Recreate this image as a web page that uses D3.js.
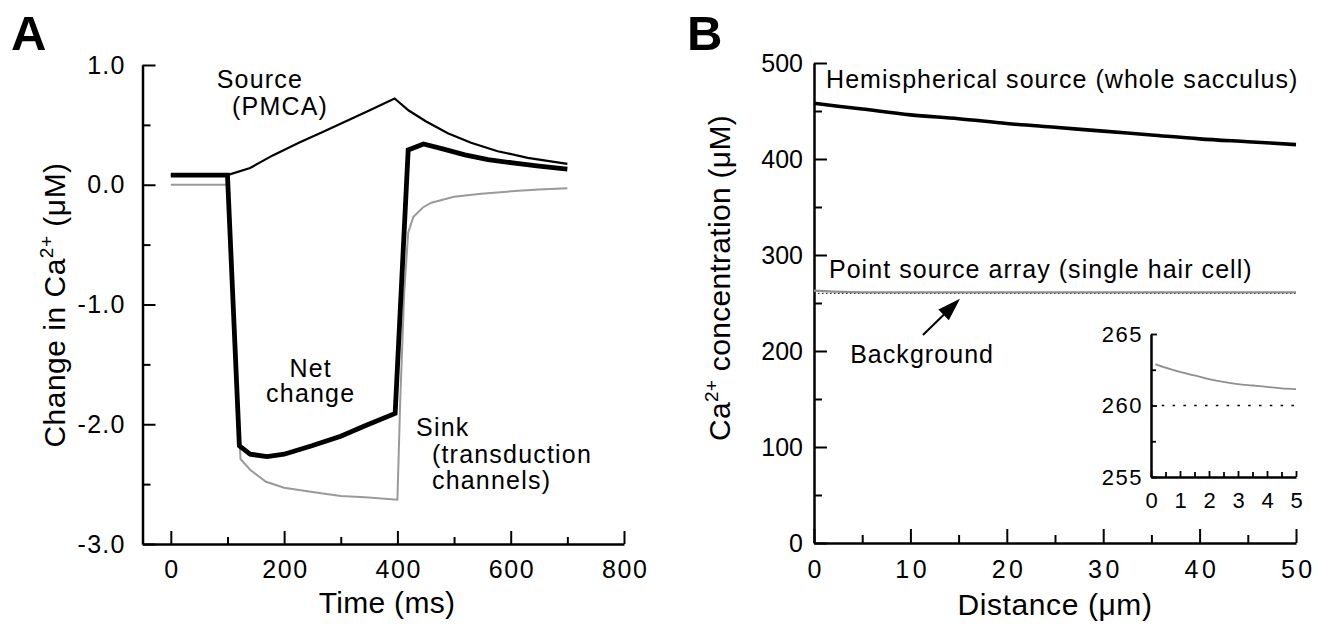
<!DOCTYPE html>
<html>
<head>
<meta charset="utf-8">
<script src="https://cdn.jsdelivr.net/npm/d3@7"></script>
<style>
  html, body { margin: 0; padding: 0; background: #fff; }
  svg { display: block; }
  text { font-family: "Liberation Sans", Arial, Helvetica, sans-serif; fill: #000; }
</style>
</head>
<body>
<svg id="chart" width="1329" height="625"></svg>
<script>
// ---------------- Panel A data ----------------
const timeSource = [0, 100, 140, 180, 226, 270, 314, 355, 395, 420, 450, 489, 530, 577, 630, 700];
const valSource  = [0.08, 0.08, 0.14, 0.245, 0.35, 0.445, 0.54, 0.63, 0.72, 0.62, 0.53, 0.43, 0.35, 0.28, 0.225, 0.175];

const timeNet = [0, 100, 121, 140, 170, 200, 249, 300, 344, 396, 419, 446, 480, 519, 560, 607, 650, 700];
const valNet  = [0.08, 0.08, -2.18, -2.25, -2.27, -2.25, -2.18, -2.10, -2.01, -1.91, 0.29, 0.34, 0.30, 0.25, 0.21, 0.18, 0.155, 0.13];

const timeSink = [0, 100, 123, 140, 168, 200, 256, 300, 343, 400, 405, 412, 419, 428, 445, 460, 500, 548, 600, 650, 700];
const valSink  = [0, 0, -2.29, -2.38, -2.48, -2.53, -2.57, -2.60, -2.61, -2.63, -1.8, -0.9, -0.40, -0.27, -0.19, -0.15, -0.10, -0.075, -0.055, -0.04, -0.03];

const xTicksA = [0, 200, 400, 600, 800];
const xMinorA = [100, 300, 500, 700];
const yTicksA = [-3, -2, -1, 0, 1];
const yMinorA = [-2.5, -1.5, -0.5, 0.5];

// ---------------- Panel B data ----------------
const distHemi = [0, 5, 10, 15, 20, 25, 30, 35, 40, 45, 50];
const valHemi  = [458, 452, 446, 442, 437, 433, 429, 425, 421, 418, 415];

const distPoint = [0, 1, 2, 3, 4, 5, 10, 20, 30, 40, 50];
const valPoint  = [262.9, 262.35, 261.85, 261.5, 261.3, 261.15, 261.0, 261.0, 261.0, 261.0, 261.0];

const backgroundLevel = 260;

const xTicksB = [0, 10, 20, 30, 40, 50];
const xMinorB = [5, 15, 25, 35, 45];
const yTicksB = [0, 100, 200, 300, 400, 500];
const yMinorB = [50, 150, 250, 350, 450];

// inset
const distInset = [0.15, 0.5, 1, 1.5, 2, 2.5, 3, 3.5, 4, 4.5, 5];
const valInset  = [262.9, 262.65, 262.35, 262.1, 261.85, 261.65, 261.5, 261.4, 261.3, 261.2, 261.15];
const xTicksInset = [0, 1, 2, 3, 4, 5];
const xMinorInset = [0.5, 1.5, 2.5, 3.5, 4.5];
const yTicksInset = [255, 260, 265];
const yMinorInset = [257.5, 262.5];

// ---------------- Drawing ----------------
const svg = d3.select("#chart");
const FONT = 25;

function styleAxis(g, opts) {
  g.select(".domain").attr("stroke-width", opts.domainW || 2.5).attr("stroke", "#000");
  g.selectAll(".tick line").attr("stroke-width", opts.tickW || 2).attr("stroke", "#000");
  g.selectAll(".tick text")
    .attr("font-size", opts.fs || FONT)
    .attr("letter-spacing", opts.ls != null ? opts.ls : 1.3)
    .attr("font-family", '"Liberation Sans", Arial, Helvetica, sans-serif')
    .attr("fill", "#000");
}

// ===== Panel A =====
const xA = d3.scaleLinear().domain([-50, 800]).range([142.5, 624]);
const yA = d3.scaleLinear().domain([-3, 1]).range([544, 65]);

const gA = svg.append("g");

// minor ticks
gA.append("g").attr("transform", `translate(0,${yA(-3)})`)
  .call(d3.axisBottom(xA).tickValues(xMinorA).tickSize(-7).tickFormat(""))
  .call(g => g.select(".domain").remove())
  .call(g => g.selectAll(".tick line").attr("stroke-width", 2));
gA.append("g").attr("transform", `translate(${xA(-50)},0)`)
  .call(d3.axisLeft(yA).tickValues(yMinorA).tickSize(-8).tickFormat(""))
  .call(g => g.select(".domain").remove())
  .call(g => g.selectAll(".tick line").attr("stroke-width", 2));

// major axes
const axAx = gA.append("g").attr("transform", `translate(0,${yA(-3)})`)
  .call(d3.axisBottom(xA).tickValues(xTicksA).tickSize(-13).tickSizeOuter(0).tickPadding(16).tickFormat(d => String(d)));
styleAxis(axAx, { ls: 1.6 });
axAx.selectAll(".tick text").attr("dx", 0.8);

const axAy = gA.append("g").attr("transform", `translate(${xA(-50)},0)`)
  .call(d3.axisLeft(yA).tickValues(yTicksA).tickSize(-13).tickSizeOuter(0).tickPadding(17).tickFormat(d => d.toFixed(1)));
styleAxis(axAy, { ls: 1.2 });

// lines
const lineA = d3.line().x(d => xA(d[0])).y(d => yA(d[1]));
gA.append("path").datum(d3.zip(timeSink, valSink))
  .attr("d", lineA).attr("fill", "none").attr("stroke", "#9a9a9a").attr("stroke-width", 2);
gA.append("path").datum(d3.zip(timeSource, valSource))
  .attr("d", lineA).attr("fill", "none").attr("stroke", "#000").attr("stroke-width", 2.2).attr("stroke-linejoin", "miter");
gA.append("path").datum(d3.zip(timeNet, valNet))
  .attr("d", lineA).attr("fill", "none").attr("stroke", "#000").attr("stroke-width", 4.8).attr("stroke-linejoin", "miter").attr("stroke-miterlimit", 6);

// annotations (positions in data units)
const labelsA = [
  { t: 81,  v: 0.81,  s: "Source", anchor: "start" },
  { t: 108, v: 0.58,  s: "(PMCA)", anchor: "start" },
  { t: 247, v: -1.605, s: "Net", anchor: "middle" },
  { t: 247, v: -1.815, s: "change", anchor: "middle" },
  { t: 433, v: -2.10, s: "Sink", anchor: "start" },
  { t: 461, v: -2.325, s: "(transduction", anchor: "start" },
  { t: 461, v: -2.54, s: "channels)", anchor: "start" }
];
gA.selectAll("text.lab").data(labelsA).join("text")
  .attr("class", "lab")
  .attr("x", d => xA(d.t)).attr("y", d => yA(d.v))
  .attr("text-anchor", d => d.anchor)
  .attr("font-size", FONT).attr("letter-spacing", 1.2)
  .text(d => d.s);

// axis titles
svg.append("text").attr("x", 387).attr("y", 613).attr("text-anchor", "middle")
  .attr("font-size", 30).attr("letter-spacing", 0.3).text("Time (ms)");

const yTitleA = svg.append("text")
  .attr("transform", "translate(65,305) rotate(-90)")
  .attr("text-anchor", "middle").attr("font-size", 30).attr("letter-spacing", 0.5);
yTitleA.append("tspan").text("Change in Ca");
yTitleA.append("tspan").attr("font-size", 19).attr("dy", -12).text("2+");
yTitleA.append("tspan").attr("dy", 12).text(" (\u03bcM)");

svg.append("text").attr("x", 11).attr("y", 50).attr("font-size", 49).attr("font-weight", "bold").text("A");

// ===== Panel B =====
const xB = d3.scaleLinear().domain([0, 50]).range([814, 1296]);
const yB = d3.scaleLinear().domain([0, 500]).range([543, 63]);
const gB = svg.append("g");

gB.append("g").attr("transform", `translate(0,${yB(0)})`)
  .call(d3.axisBottom(xB).tickValues(xMinorB).tickSize(-8).tickFormat(""))
  .call(g => g.select(".domain").remove())
  .call(g => g.selectAll(".tick line").attr("stroke-width", 2));
gB.append("g").attr("transform", `translate(${xB(0)},0)`)
  .call(d3.axisLeft(yB).tickValues(yMinorB).tickSize(-8).tickFormat(""))
  .call(g => g.select(".domain").remove())
  .call(g => g.selectAll(".tick line").attr("stroke-width", 2));

const axBx = gB.append("g").attr("transform", `translate(0,${yB(0)})`)
  .call(d3.axisBottom(xB).tickValues(xTicksB).tickSize(-14).tickSizeOuter(0).tickPadding(17).tickFormat(d => String(d)));
styleAxis(axBx, { ls: 3.5 });
axBx.selectAll(".tick text").attr("dx", 1.8);

const axBy = gB.append("g").attr("transform", `translate(${xB(0)},0)`)
  .call(d3.axisLeft(yB).tickValues(yTicksB).tickSize(-13).tickSizeOuter(0).tickPadding(11).tickFormat(d => String(d)));
styleAxis(axBy, { ls: 0 });

const lineB = d3.line().x(d => xB(d[0])).y(d => yB(d[1]));
gB.append("path").datum(d3.zip(distHemi, valHemi))
  .attr("d", lineB.curve(d3.curveMonotoneX)).attr("fill", "none").attr("stroke", "#000").attr("stroke-width", 3.6);
gB.append("path").datum([[0, backgroundLevel], [50, backgroundLevel]])
  .attr("d", d3.line().x(d => xB(d[0])).y(d => yB(d[1]))).attr("fill", "none")
  .attr("stroke", "#000").attr("stroke-width", 1).attr("stroke-dasharray", "1.5,2.5");
gB.append("path").datum(d3.zip(distPoint, valPoint))
  .attr("d", d3.line().x(d => xB(d[0])).y(d => yB(d[1]))).attr("fill", "none")
  .attr("stroke", "#8f8f8f").attr("stroke-width", 2.2);

// annotations
const labelsB = [
  { d: 1.25, c: 474, s: "Hemispherical source (whole sacculus)" },
  { d: 1.55, c: 276, s: "Point source array (single hair cell)" },
  { d: 3.75, c: 187.5, s: "Background" }
];
gB.selectAll("text.lab").data(labelsB).join("text")
  .attr("class", "lab")
  .attr("x", d => xB(d.d)).attr("y", d => yB(d.c))
  .attr("font-size", FONT).attr("letter-spacing", 1.05)
  .text(d => d.s);

// arrow (data units)
const arrowTail = [11.3, 216.7];
const arrowTip = [15.15, 254.4];
(function drawArrow() {
  const x0 = xB(arrowTail[0]), y0 = yB(arrowTail[1]);
  const x1 = xB(arrowTip[0]), y1 = yB(arrowTip[1]);
  const dx = x1 - x0, dy = y1 - y0, L = Math.hypot(dx, dy);
  const ux = dx / L, uy = dy / L, px = -uy, py = ux;
  const hl = 23, hw = 7.5;
  const bx = x1 - ux * hl, by = y1 - uy * hl;
  gB.append("line").attr("x1", x0).attr("y1", y0).attr("x2", bx + ux * 2).attr("y2", by + uy * 2)
    .attr("stroke", "#000").attr("stroke-width", 2);
  gB.append("path")
    .attr("d", `M${x1},${y1}L${bx + px * hw},${by + py * hw}L${bx - px * hw},${by - py * hw}Z`)
    .attr("fill", "#000");
})();

svg.append("text").attr("x", 1055).attr("y", 615).attr("text-anchor", "middle")
  .attr("font-size", 30).attr("letter-spacing", 0.6).text("Distance (\u03bcm)");

const yTitleB = svg.append("text")
  .attr("transform", "translate(730,278) rotate(-90)")
  .attr("text-anchor", "middle").attr("font-size", 30).attr("letter-spacing", 0.3);
yTitleB.append("tspan").text("Ca");
yTitleB.append("tspan").attr("font-size", 19).attr("dy", -12).text("2+");
yTitleB.append("tspan").attr("dy", 12).text(" concentration (\u03bcM)");

svg.append("text").attr("x", 687).attr("y", 50).attr("font-size", 49).attr("font-weight", "bold").text("B");

// ===== Inset =====
const xI = d3.scaleLinear().domain([0, 5]).range([1151, 1296]);
const yI = d3.scaleLinear().domain([255, 265]).range([477, 334]);
const gI = svg.append("g");

gI.append("g").attr("transform", `translate(0,${yI(255)})`)
  .call(d3.axisBottom(xI).tickValues(xMinorInset).tickSize(-5).tickFormat(""))
  .call(g => g.select(".domain").remove())
  .call(g => g.selectAll(".tick line").attr("stroke-width", 1.8));
gI.append("g").attr("transform", `translate(${xI(0)},0)`)
  .call(d3.axisLeft(yI).tickValues(yMinorInset).tickSize(-5).tickFormat(""))
  .call(g => g.select(".domain").remove())
  .call(g => g.selectAll(".tick line").attr("stroke-width", 1.8));

const axIx = gI.append("g").attr("transform", `translate(0,${yI(255)})`)
  .call(d3.axisBottom(xI).tickValues(xTicksInset).tickSize(-6).tickSizeOuter(0).tickPadding(15).tickFormat(d => String(d)));
styleAxis(axIx, { fs: 22, ls: 0, tickW: 1.8 });
const axIy = gI.append("g").attr("transform", `translate(${xI(0)},0)`)
  .call(d3.axisLeft(yI).tickValues(yTicksInset).tickSize(-6).tickSizeOuter(0).tickPadding(8).tickFormat(d => String(d)));
styleAxis(axIy, { fs: 22, ls: 1.5, tickW: 1.8 });

const lineI = d3.line().x(d => xI(d[0])).y(d => yI(d[1])).curve(d3.curveMonotoneX);
gI.append("path").datum([[0, backgroundLevel], [5, backgroundLevel]])
  .attr("d", d3.line().x(d => xI(d[0])).y(d => yI(d[1]))).attr("fill", "none")
  .attr("stroke", "#000").attr("stroke-width", 1.3).attr("stroke-dasharray", "2.5,8.3");
gI.append("path").datum(d3.zip(distInset, valInset))
  .attr("d", lineI).attr("fill", "none").attr("stroke", "#8f8f8f").attr("stroke-width", 1.8);
</script>
</body>
</html>
